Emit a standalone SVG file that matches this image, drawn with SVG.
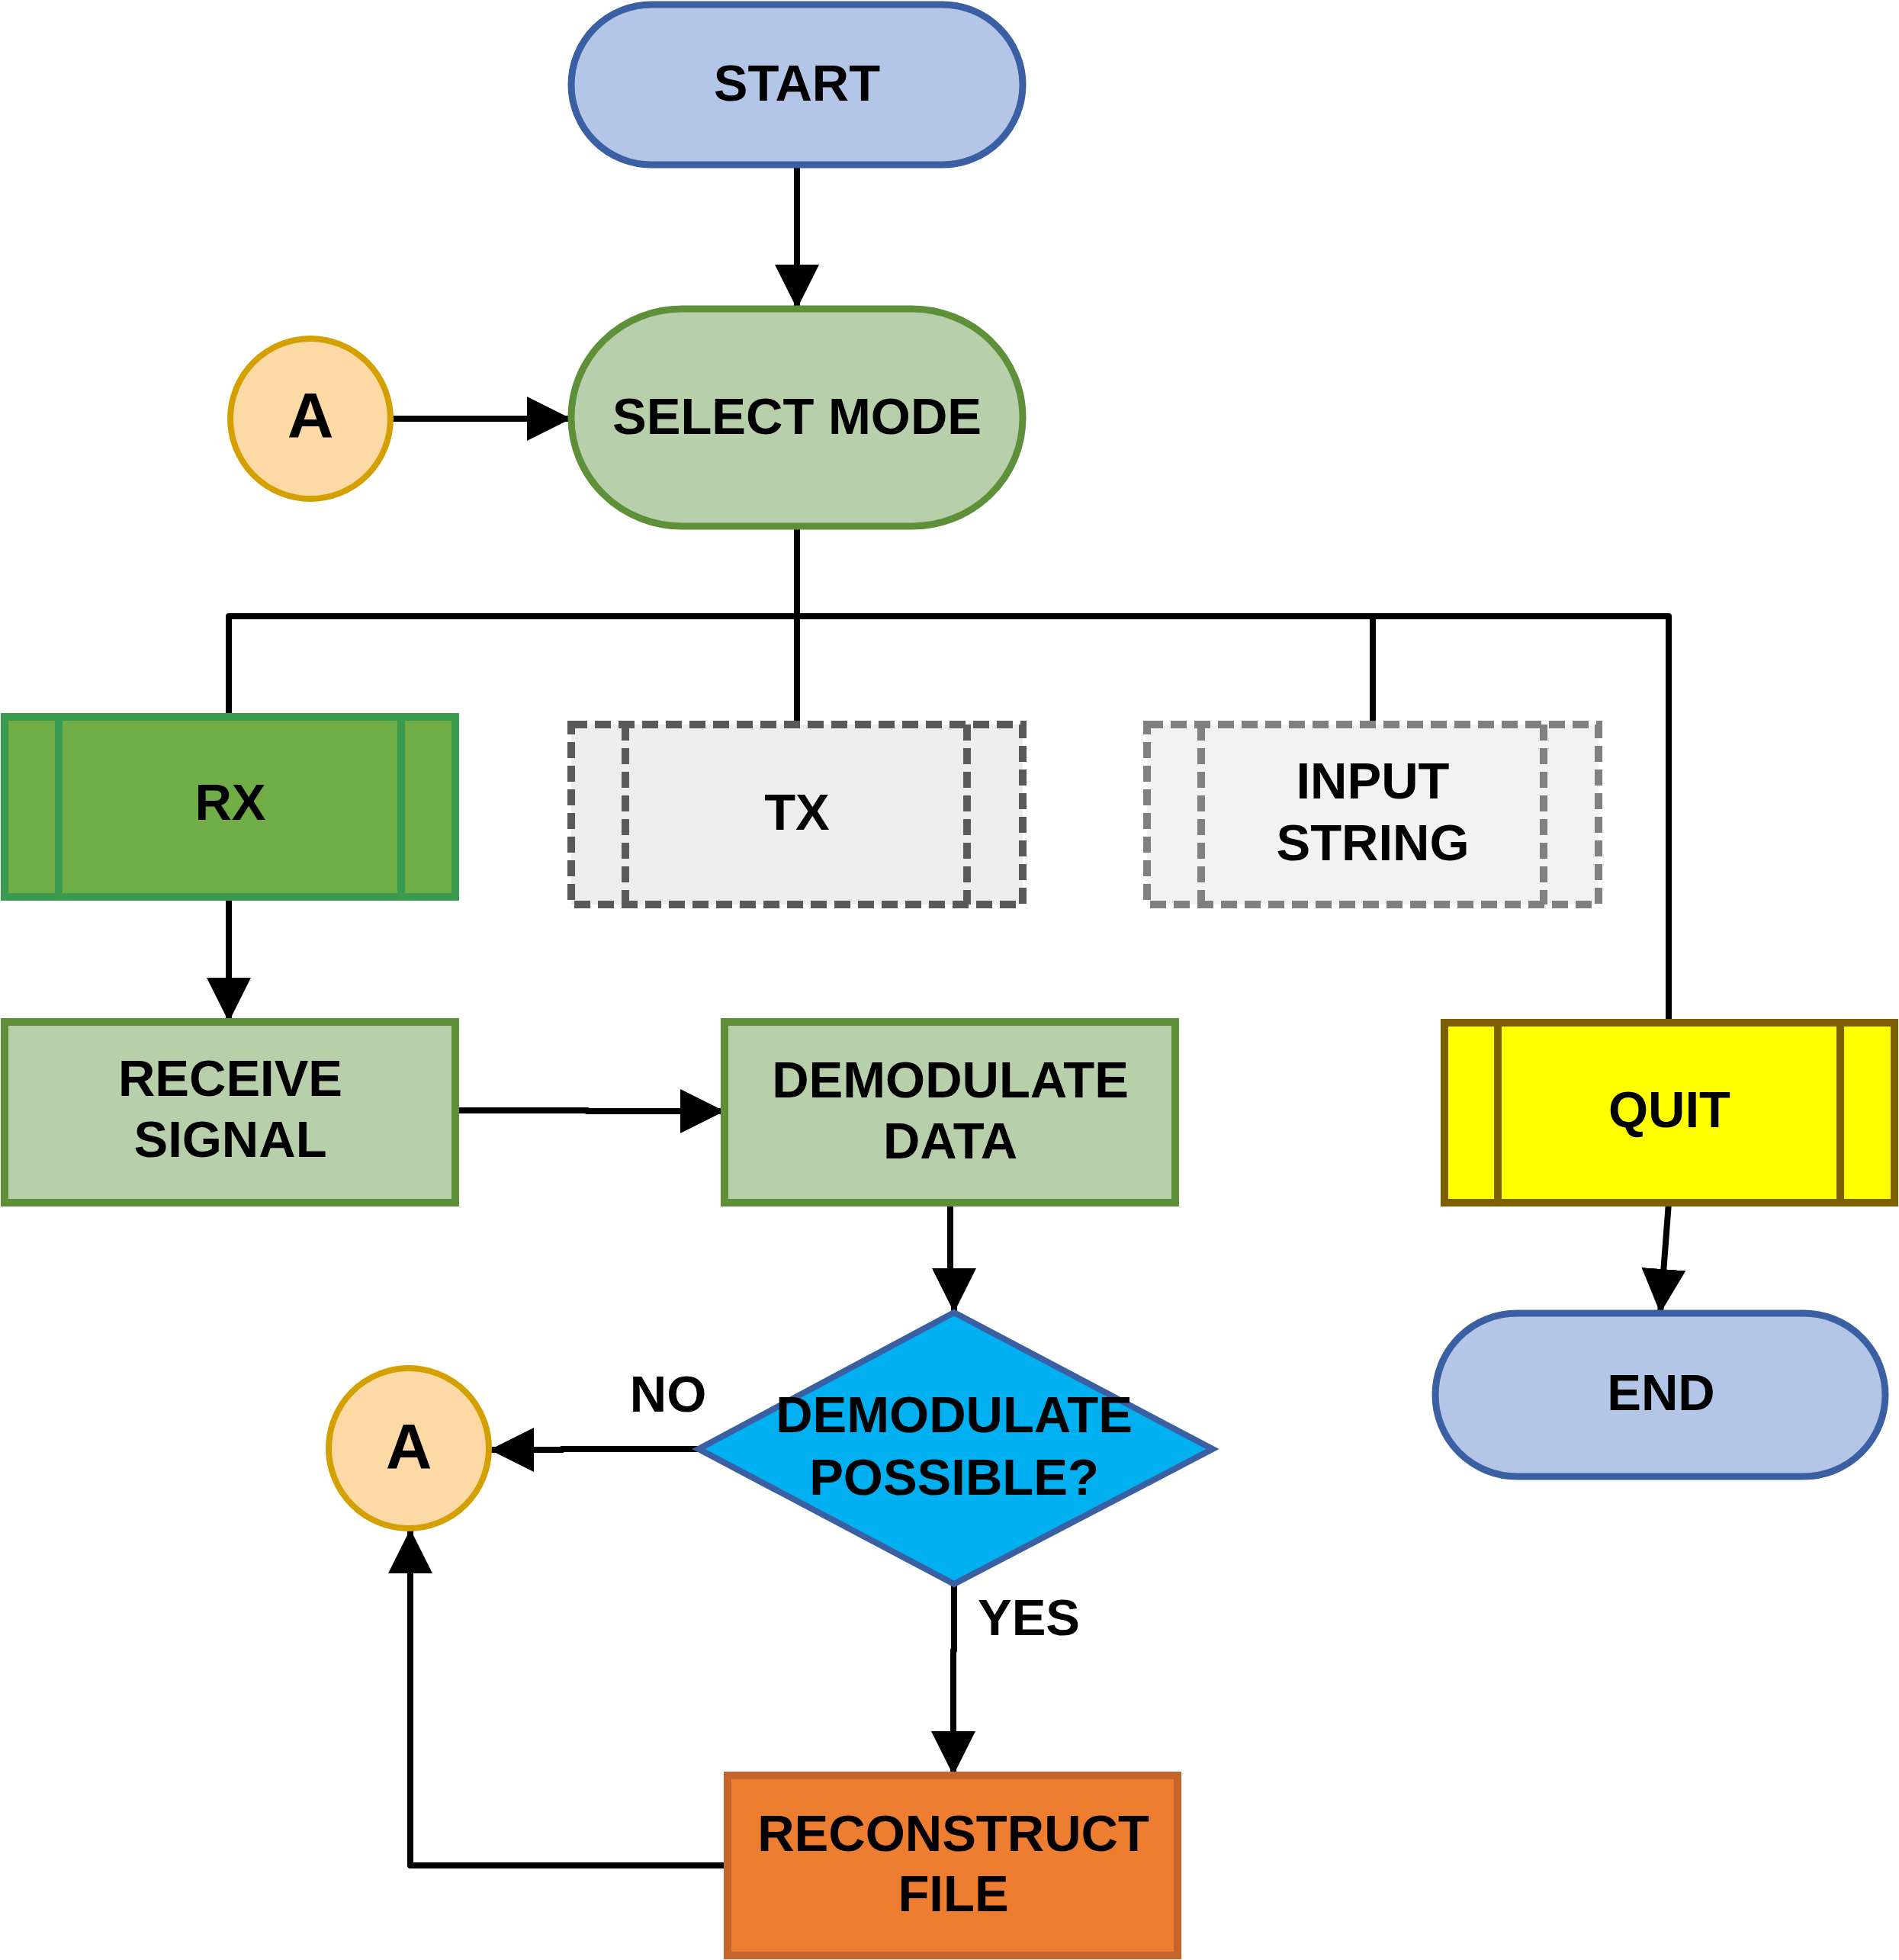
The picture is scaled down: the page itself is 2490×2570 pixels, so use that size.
<svg xmlns="http://www.w3.org/2000/svg" width="2490" height="2570" viewBox="0 0 2490 2570">
<style>
  text { font-family: "Liberation Sans", Arial, sans-serif; font-weight: bold; font-size: 67px; fill: #000; text-anchor: middle; }
  .big { font-size: 84px; }
  .conn { fill: none; stroke: #000; stroke-width: 8; stroke-linecap: round; stroke-linejoin: round; }
  .arrow { marker-end: url(#ah); }
  .term { fill: #B4C6E7; stroke: #3A5FA3; stroke-width: 9; }
  .green { fill: #B7CFAB; stroke: #5E9039; stroke-width: 10; }
  .conn-a { fill: #FDDAA5; stroke: #D4A000; stroke-width: 8; }
  .dash { stroke-width: 10; stroke-dasharray: 21 10; }
</style>
<defs>
  <marker id="ah" markerUnits="userSpaceOnUse" markerWidth="58" markerHeight="58" viewBox="0 0 58 58" refX="58" refY="29" orient="auto">
    <path d="M0,0 L58,29 L0,58 z" fill="#000"/>
  </marker>
</defs>
<rect width="2490" height="2570" fill="#fff"/>

<g id="connectors">
  <path class="conn arrow" d="M1045,218 V405"/>
  <path class="conn arrow" d="M513,549 H749"/>
  <path class="conn" d="M1045,690 V950"/>
  <path class="conn" d="M300,940 V808 H2188 V1341"/>
  <path class="conn" d="M1800,808 V950"/>
  <path class="conn arrow" d="M300,1176 V1340"/>
  <path class="conn arrow" d="M597,1456 H770 V1457 H950"/>
  <path class="conn arrow" d="M1246,1577 V1690 H1251 V1721"/>
  <path class="conn arrow" d="M916,1900 H737 V1901 H642"/>
  <path class="conn arrow" d="M1251,2077 V2164 H1250 V2328"/>
  <path class="conn arrow" d="M957,2446 H538 V2005"/>
  <path class="conn arrow" d="M2188,1577 L2177,1722"/>
</g>

<g id="start">
  <rect class="term" x="749" y="6" width="592" height="210" rx="105" ry="105"/>
  <text x="1045" y="132">START</text>
</g>

<g id="select-mode">
  <rect x="749" y="405" width="592" height="285" rx="145" ry="142" fill="#B7CFAB" stroke="#5E9039" stroke-width="9"/>
  <text x="1045" y="569">SELECT MODE</text>
</g>

<g id="a-top">
  <circle class="conn-a" cx="407" cy="549" r="105"/>
  <text class="big" x="407" y="574">A</text>
</g>

<g id="rx">
  <rect x="6" y="940" width="591" height="236" fill="#70AD47" stroke="#3A9A50" stroke-width="10"/>
  <line x1="77" y1="940" x2="77" y2="1176" stroke="#3A9A50" stroke-width="10"/>
  <line x1="526" y1="940" x2="526" y2="1176" stroke="#3A9A50" stroke-width="10"/>
  <text x="302" y="1075">RX</text>
</g>

<g id="tx">
  <rect x="749" y="950" width="592" height="236" fill="#EDEDED" stroke="#595959" class="dash"/>
  <line x1="820" y1="950" x2="820" y2="1186" stroke="#595959" class="dash"/>
  <line x1="1268" y1="950" x2="1268" y2="1186" stroke="#595959" class="dash"/>
  <text x="1045" y="1088">TX</text>
</g>

<g id="input-string">
  <rect x="1504" y="950" width="592" height="236" fill="#F2F2F2" stroke="#808080" class="dash"/>
  <line x1="1575" y1="950" x2="1575" y2="1186" stroke="#808080" class="dash"/>
  <line x1="2024" y1="950" x2="2024" y2="1186" stroke="#808080" class="dash"/>
  <text x="1800" y="1047">INPUT</text>
  <text x="1800" y="1128">STRING</text>
</g>

<g id="quit">
  <rect x="1894" y="1341" width="590" height="236" fill="#FFFF00" stroke="#7F6000" stroke-width="10"/>
  <line x1="1964" y1="1341" x2="1964" y2="1577" stroke="#7F6000" stroke-width="10"/>
  <line x1="2413" y1="1341" x2="2413" y2="1577" stroke="#7F6000" stroke-width="10"/>
  <text x="2189" y="1478">QUIT</text>
</g>

<g id="receive-signal">
  <rect class="green" x="6" y="1340" width="591" height="237"/>
  <text x="302" y="1437">RECEIVE</text>
  <text x="302" y="1517">SIGNAL</text>
</g>

<g id="demodulate-data">
  <rect class="green" x="950" y="1340" width="591" height="237"/>
  <text x="1246" y="1439">DEMODULATE</text>
  <text x="1246" y="1519">DATA</text>
</g>

<g id="end">
  <rect class="term" x="1882" y="1722" width="590" height="214" rx="107" ry="107"/>
  <text x="2178" y="1849">END</text>
</g>

<g id="decision">
  <polygon points="1251,1721 1590,1900 1251,2077 916,1900" fill="#00B0F0" stroke="#3A5FA3" stroke-width="8"/>
  <text x="1251" y="1878">DEMODULATE</text>
  <text x="1251" y="1960">POSSIBLE?</text>
</g>

<g id="a-bottom">
  <circle class="conn-a" cx="536" cy="1899" r="105"/>
  <text class="big" x="536" y="1926">A</text>
</g>

<g id="reconstruct-file">
  <rect x="954" y="2328" width="590" height="236" fill="#ED7D31" stroke="#C5652B" stroke-width="10"/>
  <text x="1250" y="2427">RECONSTRUCT</text>
  <text x="1250" y="2506">FILE</text>
</g>

<g id="labels">
  <text x="876" y="1851">NO</text>
  <text x="1349" y="2144">YES</text>
</g>
</svg>
